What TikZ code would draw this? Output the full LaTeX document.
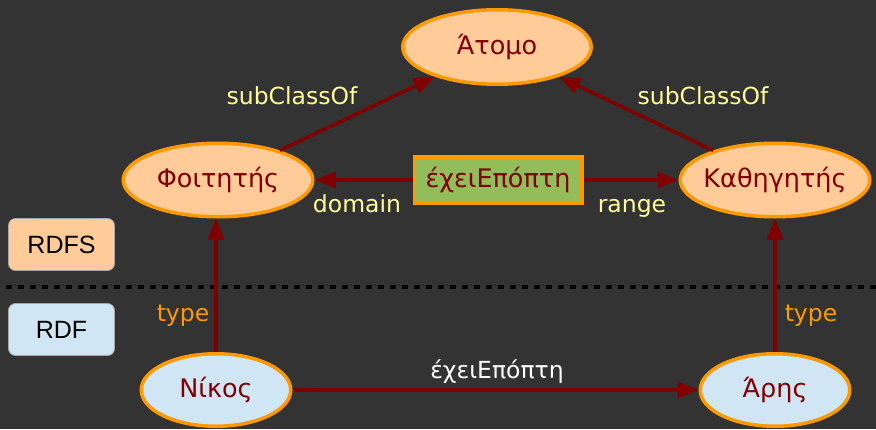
\documentclass[tikz,border=0pt]{standalone}
\usepackage{fontspec}
\setmainfont{DejaVu Sans}
\newfontfamily\arialfont{Liberation Sans}
\usetikzlibrary{shapes.geometric,arrows.meta}
\definecolor{bgc}{HTML}{333333}
\definecolor{peach}{HTML}{FFCC99}
\definecolor{orng}{HTML}{FF9900}
\definecolor{lblue}{HTML}{D0E6F5}
\definecolor{grn}{HTML}{92BD5A}
\definecolor{dred}{HTML}{800000}
\definecolor{lyel}{HTML}{FFFF99}
\tikzset{
  cls/.style={ellipse, draw=orng, fill=peach, line width=3.5pt, inner xsep=-20pt, inner ysep=0pt,
    text=dred, font=\fontsize{25.5}{30}\selectfont},
  inst/.style={cls, fill=lblue},
  prop/.style={rectangle, draw=orng, fill=grn, line width=3.5pt, inner sep=0pt,
    text=dred, font=\fontsize{25.5}{30}\selectfont, minimum width=167.5pt, minimum height=46.5pt},
  conn/.style={draw=dred, line width=3.5pt, -{Triangle[length=21pt,width=16pt]}},
  lbl/.style={font=\fontsize{23.5}{28}\selectfont, inner sep=0pt, anchor=base},
  layer/.style={rectangle, rounded corners=7pt, draw=gray!70, line width=0.8pt,
    minimum width=106pt, minimum height=52pt, inner sep=0pt,
    font=\arialfont\fontsize{25}{29}\selectfont, text=black}
}
\begin{document}
\begin{tikzpicture}[x=1pt,y=-1pt]
\fill[bgc] (0,0) rectangle (876,429);
\useasboundingbox (0,0) rectangle (876,429);
% nodes
\node[cls, minimum width=188.5pt, minimum height=74.5pt] (atomo) at (497,47) {Άτομο};
\node[cls, minimum width=189.5pt, minimum height=73.5pt] (foit) at (218,180) {Φοιτητής};
\node[cls, minimum width=189.5pt, minimum height=73.5pt] (kath) at (775,180) {Καθηγητής};
\node[prop] (exei) at (498,180) {έχειΕπόπτη};
\node[inst, minimum width=149.5pt, minimum height=72.5pt] (nikos) at (216,390) {Νίκος};
\node[inst, minimum width=149.5pt, minimum height=72.5pt] (aris) at (775,390) {Άρης};
\node[layer, fill=peach] (rdfs) at (61.5,244.5) {RDFS};
\node[layer, fill=lblue] (rdf) at (61.5,329.5) {RDF};
% separator
\coordinate (sepL) at (6,287);
\coordinate (sepR) at (876,287);
\draw[black, line width=3.3pt, dash pattern=on 6pt off 6pt] (sepL) -- (sepR);
% connectors
\draw[conn] (foit) -- (atomo);
\draw[conn] (kath) -- (atomo);
\draw[conn] (exei) -- (foit);
\draw[conn] (exei) -- (kath);
\draw[conn] (nikos.north) -- (nikos.north |- foit.south);
\draw[conn] (aris) -- (kath);
\draw[conn] (nikos) -- (aris);
% labels
\node[lbl, text=lyel] (l1) at (292,104) {subClassOf};
\node[lbl, text=lyel] (l2) at (703,104) {subClassOf};
\node[lbl, text=lyel] (l3) at (357,212) {domain};
\node[lbl, text=lyel] (l4) at (632,212) {range};
\node[lbl, text=orng] (l5) at (183,321) {type};
\node[lbl, text=orng] (l6) at (811,321) {type};
\node[lbl, text=white] (l7) at (497,378) {έχειΕπόπτη};
\end{tikzpicture}
\end{document}
